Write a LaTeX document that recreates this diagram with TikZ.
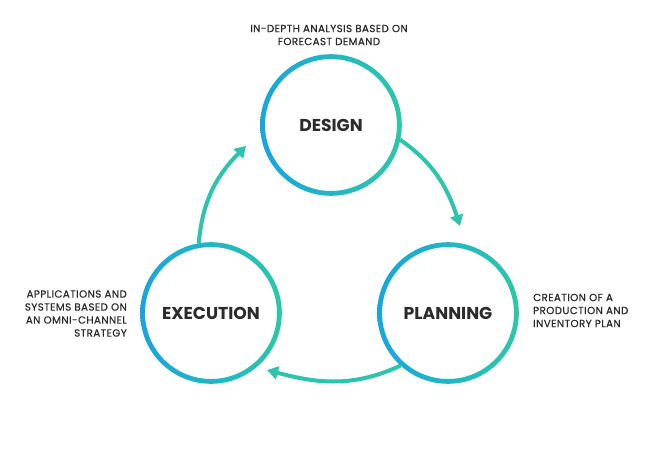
\documentclass[tikz,border=0pt]{standalone}
\usepackage{fontspec}
\setmainfont{Poppins}
\newfontfamily\descfont[LetterSpace=4,FakeBold=0.5]{Poppins}
\usetikzlibrary{arrows.meta}
\definecolor{ringblue}{RGB}{24,165,222}
\definecolor{ringteal}{RGB}{42,200,168}
\definecolor{arrowteal}{RGB}{44,196,170}
\definecolor{txt}{RGB}{43,43,43}
\tikzset{
  stage/.style={circle, minimum size=141pt, inner sep=0pt, font=\bfseries\fontsize{17.2}{20}\selectfont, text=txt},
  desc/.style={font=\descfont\fontsize{10.3}{13}\selectfont, text=txt, inner sep=0pt},
  flow/.style={draw=arrowteal, line width=4pt, -{Triangle[length=11pt,width=13pt]}},
}
\newcommand{\ringat}[1]{%
  \shade[left color=ringblue, right color=ringteal, even odd rule]
    (#1) circle[radius=70.8pt] (#1) circle[radius=66pt];}
\begin{document}
\begin{tikzpicture}[x=1pt,y=1pt]
\useasboundingbox (0,0) rectangle (648,456);
\fill[white] (0,0) rectangle (648,456);
\coordinate (cd) at (331,331);
\coordinate (ce) at (211,143);
\coordinate (cp) at (448,143);
\ringat{cd}
\ringat{ce}
\ringat{cp}
\node[stage] (design) at (cd) {DESIGN};
\node[stage] (execution) at (ce) {EXECUTION};
\node[stage] (planning) at (cp) {PLANNING};
\node[desc, align=center] (ddesign) at (329,421) {IN-DEPTH ANALYSIS BASED ON\\FORECAST DEMAND};
\node[desc, align=right, anchor=east] (dexec) at (127,142.5) {APPLICATIONS AND\\SYSTEMS BASED ON\\AN OMNI-CHANNEL\\STRATEGY};
\node[desc, align=left, anchor=west] (dplan) at (533,145.5) {CREATION OF A\\PRODUCTION AND\\INVENTORY PLAN};
\coordinate (t1) at (246,310);
\coordinate (t2) at (460,230);
\coordinate (t3) at (267,86);
\draw[flow] (execution.100) to[out=85,in=225] (t1);
\draw[flow] (design.-12) to[out=-35,in=108] (t2);
\draw[flow] (planning.228) to[out=205,in=-15] (t3);
\end{tikzpicture}
\end{document}
